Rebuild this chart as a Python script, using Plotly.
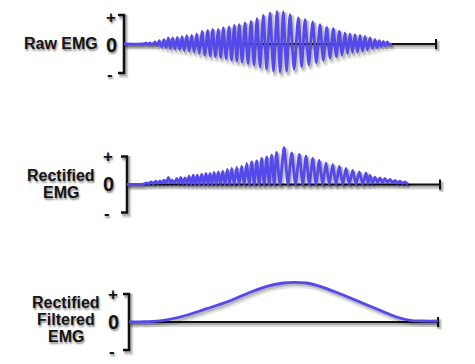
import plotly.graph_objects as go

W, H = 475, 364

# ---------------- data (time in arbitrary units, amplitude in arbitrary units) ----------------
raw_t = [0, 19, 22, 24, 26, 28, 31, 33.2, 35.3, 37.6, 40, 42.2, 44.3, 46.5, 48.7, 51, 53.3, 55.6, 58, 60.3,
         62.7, 65.2, 67.7, 70.2, 72.7, 75.3, 78, 80.8, 83.7, 86.2, 88.7, 91.5, 94.3, 96.8, 99.3, 102.1,
         105, 107.6, 110.3, 112.8, 115.3, 118.1, 121, 124, 127, 130, 133, 136.1, 139.3, 142.6, 146,
         149.5, 153, 156.1, 159.3, 162.6, 166, 170.1, 174.3, 177.6, 181, 184.8, 188.7, 192.3, 196,
         199.3, 202.7, 206, 209.3, 212.3, 215.3, 218.1, 221, 223.5, 226, 228.5, 231, 233.5, 236,
         238.5, 241, 243.5, 246, 248.5, 251, 253.1, 255.3, 257.3, 259.3, 261.3, 263.3, 265.5, 268]
raw_v = [0, 0, 0.8, -0.6, 1.0, -0.8, 2.0, -1.5, 3.3, -2.5, 4.3, -3.5, 6.0, -4.5, 6.0, -5.0, 6.7, -5.5, 7.3, -6.5,
         8.3, -7.0, 8.7, -8.0, 10.0, -9.5, 12.7, -11, 13.3, -12, 14.3, -12.5, 14.3, -13.5, 16, -14.5,
         17, -16, 18.7, -17, 19.3, -18, 21, -19.5, 22.7, -21, 25.3, -23, 28.7, -25, 31,
         -27, 32.5, -28, 32, -27, 29.3, -25, 26, -22.5, 24.3, -20.5, 22, -18.5, 19.3,
         -16, 16.7, -14, 15.3, -12.5, 12.7, -11, 11, -9.5, 10, -8.5, 9.3, -8, 8.7,
         -7, 7.7, -6, 6, -4.5, 4.3, -3.5, 3.3, -2.5, 2.7, -2, 2, -1, 0]

rect_t = [3, 19, 22.7, 24.8, 27, 29.3, 31.7, 34, 36, 38, 40, 42, 44.3, 46.3, 48.3, 50.5, 52.7, 54.7, 56.7,
          58.8, 61, 63, 65, 67.2, 69.3, 71.3, 73.3, 75.5, 77.7, 79.8, 82, 84, 86, 88, 90, 92.2, 94.3,
          96.5, 98.7, 101, 103.3, 105.5, 107.7, 110.2, 112.7, 115.2, 117.7, 120.2, 122.7, 125.2, 127.7,
          130.2, 132.7, 135.2, 137.7, 140.2, 142.7, 145.2, 147.7, 150.2, 152.5, 156, 160, 164, 167.7,
          171.5, 175.3, 178.7, 182, 185.3, 188.7, 192, 195.3, 198.7, 202, 205.3, 208.7, 212, 215.3,
          218.7, 222, 225.3, 228.7, 232, 235.3, 238.7, 242, 244, 246, 248.5, 251, 253.5, 256, 258.5,
          261, 263.5, 266, 268.5, 271, 273.5, 276, 278.5, 281, 283, 284]
rect_v = [0, 0.3, 1.7, 0.8, 2.7, 1.0, 3.3, 1.2, 3.7, 1.3, 4.3, 1.5, 7.0, 1.5, 4.3, 1.5, 6.0, 1.2, 7.0,
          1.0, 6.7, 0.8, 8.3, 0.6, 9.3, 0.5, 9.3, 0.4, 10.3, 0.3, 11, 0.3, 11, 0.2, 12, 0.2, 12.7,
          0.2, 13.3, 0.2, 15, 0.1, 16, 0.1, 17, 0.1, 18.3, 0, 21, 0, 22.7,
          0, 23.7, 0, 26, 0, 27.7, 0, 29.3, 0, 32, 0, 37, 0, 31.7,
          0, 30, 0, 28.3, 0, 26, 0, 24, 0, 21.7, 0, 20, 0, 18.3,
          0, 16, 0.2, 14, 0.3, 12.7, 0.5, 11.7, 1.0, 9, 1.5, 7.3, 2, 6.7, 2,
          6, 2, 5, 1.8, 4, 1.5, 3.3, 1.2, 2.7, 1, 0.3]

filt_t = [5, 16, 36, 56, 82.7, 102.7, 122.7, 142.7, 159.3, 169.3, 182.7, 196, 216, 236, 256, 272.7, 286, 299.3, 313.7]
filt_v = [0, 0.2, 1.2, 5, 13.3, 20, 28.3, 35.7, 39, 39.7, 39, 35.7, 28.3, 20, 11.7, 5, 1.7, 1, 1]

panel_labels = [["Raw EMG"], ["Rectified", "EMG"], ["Rectified", "Filtered", "EMG"]]
sign_labels = ["+", "0", "-"]
series = [(raw_t, raw_v), (rect_t, rect_v), (filt_t, filt_v)]

# ---------------- layout / style ----------------
SIG = "#5549ec"
FONT = "Liberation Sans, Arial, sans-serif"
TXT_SHADOW = "1px 2px 2px rgba(0,0,0,0.45)"
LINE_GAP = 17

panels = [
    dict(zy=44.0, half=44, bx=0, bh=29, end=312, lx=61, ly=43, sx=111, sy=(17, 45, 75), spline=0.6),
    dict(zy=184.5, half=44, bx=3, bh=28, end=316, lx=61, ly=183.5, sx=108, sy=(156, 184, 213), spline=0.6),
    dict(zy=322.0, half=42, bx=5, bh=28, end=314, lx=66, ly=319.5, sx=113, sy=(294, 322, 351), spline=1.0),
]

def px(x, y):
    return x / W, 1 - y / H

fig = go.Figure()
shapes = []
annotations = []
layout_axes = {}

for i, (p, (t, v)) in enumerate(zip(panels, series), start=1):
    xa = "x" if i == 1 else f"x{i}"
    ya = "y" if i == 1 else f"y{i}"
    xkey = "xaxis" if i == 1 else f"xaxis{i}"
    ykey = "yaxis" if i == 1 else f"yaxis{i}"
    top = 1 - (p["zy"] - p["half"]) / H
    bot = 1 - (p["zy"] + p["half"]) / H
    layout_axes[xkey] = dict(domain=[0, 1], range=[-124, 351], visible=False, fixedrange=True)
    layout_axes[ykey] = dict(domain=[max(bot, 0), min(top, 1)], range=[-p["half"], p["half"]],
                             visible=False, fixedrange=True)

    # zero line + end cap + bracket (with soft shadow)
    for dx, dy, col, wd in [(1.5, -2.5, "rgba(0,0,0,0.15)", 5), (1, -1.5, "rgba(0,0,0,0.2)", 3),
                            (0, 0, "#111111", 2)]:
        shapes.append(dict(type="line", xref=xa, yref=ya, x0=p["bx"] + dx, x1=p["end"] + dx,
                           y0=dy, y1=dy, line=dict(color=col, width=wd), layer="below"))
        shapes.append(dict(type="line", xref=xa, yref=ya, x0=p["end"] + dx, x1=p["end"] + dx,
                           y0=-5 + dy, y1=5 + dy, line=dict(color=col, width=wd), layer="below"))
        b = p["bx"]
        h = p["bh"]
        shapes.append(dict(type="path", xref=xa, yref=ya,
                           path=f"M {b - 6 + dx},{h + dy} L {b + dx},{h + dy} L {b + dx},{-h + dy} L {b - 6 + dx},{-h + dy}",
                           line=dict(color=col, width=wd + 0.5), layer="below"))

    # signal shadow
    for dx, dy, col, wd in [(2, -3, "rgba(0,0,0,0.10)", 6), (1.5, -2, "rgba(0,0,0,0.18)", 3.5)]:
        fig.add_trace(go.Scatter(x=[a + dx for a in t], y=[b + dy for b in v], mode="lines",
                                 line=dict(color=col, width=wd, shape="spline", smoothing=p["spline"]),
                                 xaxis=xa, yaxis=ya, hoverinfo="skip", showlegend=False))
    fig.add_trace(go.Scatter(x=t, y=v, mode="lines",
                             line=dict(color=SIG, width=2.8, shape="spline", smoothing=p["spline"]),
                             xaxis=xa, yaxis=ya, hoverinfo="skip", showlegend=False))

    # multi-line panel label, one annotation per line for tight spacing
    lines = panel_labels[i - 1]
    n = len(lines)
    for k, txt in enumerate(lines):
        yk = p["ly"] + (k - (n - 1) / 2) * LINE_GAP
        lx, ly = px(p["lx"], yk)
        annotations.append(dict(text=txt, x=lx, y=ly, xref="paper", yref="paper",
                                xanchor="center", yanchor="middle", showarrow=False, align="center",
                                font=dict(family=FONT, size=16, color="#151515", weight=700,
                                          shadow=TXT_SHADOW)))
    for s, sy in zip(sign_labels, p["sy"]):
        sx, syp = px(p["sx"] if s != "-" else p["sx"] - 1, sy)
        annotations.append(dict(text=s, x=sx, y=syp, xref="paper", yref="paper",
                                xanchor="center", yanchor="middle", showarrow=False,
                                font=dict(family=FONT, size=20 if s == "0" else 17, color="#151515",
                                          weight=700, shadow=TXT_SHADOW)))

fig.update_layout(
    width=W, height=H, margin=dict(l=0, r=0, t=0, b=0),
    paper_bgcolor="white", plot_bgcolor="rgba(0,0,0,0)",
    shapes=shapes, annotations=annotations, showlegend=False,
    **layout_axes,
)

fig.write_html("out.html", include_plotlyjs=True, config={"displayModeBar": False},
               post_script="document.body.style.margin='0';document.body.style.padding='0';")
